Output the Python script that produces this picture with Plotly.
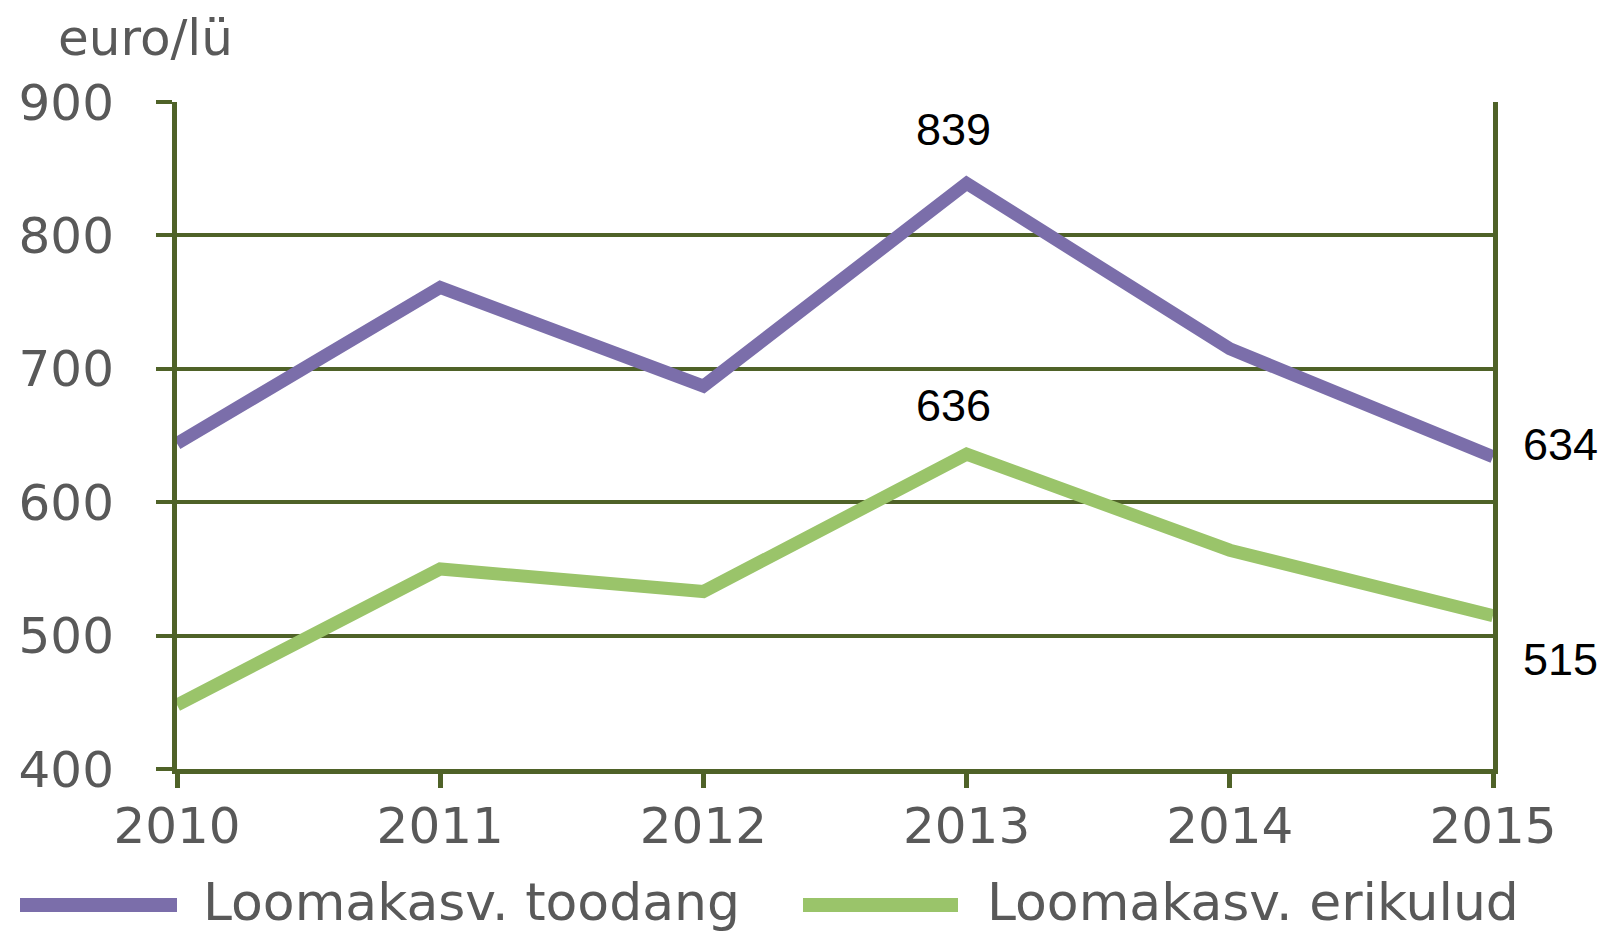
import plotly.graph_objects as go

years = [2010, 2011, 2012, 2013, 2014, 2015]
toodang = [644, 761, 687, 839, 715, 634]
erikulud = [448, 550, 533, 636, 564, 515]
y_ticks = [400, 500, 600, 700, 800, 900]
series_names = ["Loomakasv. toodang", "Loomakasv. erikulud"]
unit_label = "euro/lü"

PURPLE = "#7B6EAA"
GREEN = "#9AC46A"
OLIVE = "#4F6228"
GRAY = "#595959"

W, H = 1604, 934
L, R, T, B = 177, 111, 102, 165
PW, PH = W - L - R, H - T - B


def px(x):
    return (x - L) / PW


def py(y):
    return (H - B - y) / PH


fig = go.Figure()
fig.add_trace(go.Scatter(x=years, y=toodang, mode="lines", name=series_names[0],
                         line=dict(color=PURPLE, width=13), showlegend=False))
fig.add_trace(go.Scatter(x=years, y=erikulud, mode="lines", name=series_names[1],
                         line=dict(color=GREEN, width=13), showlegend=False))

# data labels
labels = [
    (years[3], toodang[3], "center", -13, 54),
    (years[3], erikulud[3], "center", -13, 49),
    (years[5], toodang[5], "left", 28, 12),
    (years[5], erikulud[5], "left", 28, -44),
]
for x, y, xa, xs, ys in labels:
    fig.add_annotation(x=x, y=y, text=str(y), showarrow=False, xanchor=xa, yanchor="middle",
                       xshift=xs, yshift=ys,
                       font=dict(family="Liberation Sans, Arial", size=45, color="#000000"))

fig.add_annotation(xref="paper", yref="paper", x=px(56), y=py(38),
                   text=unit_label, showarrow=False, xanchor="left", yanchor="middle",
                   font=dict(family="DejaVu Sans", size=50, color=GRAY))

# legend (drawn manually to match long, thick key lines)
legend_items = [
    (series_names[0], PURPLE, 20, 177, 201),
    (series_names[1], GREEN, 803, 958, 985),
]
for name, col, x0, x1, tx in legend_items:
    fig.add_shape(type="line", xref="paper", yref="paper", x0=px(x0), x1=px(x1),
                  y0=py(905), y1=py(905), line=dict(color=col, width=14))
    fig.add_annotation(xref="paper", yref="paper", x=px(tx), y=py(902), text=name,
                       showarrow=False, xanchor="left", yanchor="middle",
                       font=dict(family="DejaVu Sans", size=52, color=GRAY))

fig.update_xaxes(range=[2010, 2015], tickvals=years, ticktext=[str(y) for y in years],
                 showgrid=False, zeroline=False, showline=True, linecolor=OLIVE, linewidth=5,
                 ticks="outside", ticklen=14, tickwidth=5, tickcolor=OLIVE, automargin=False,
                 tickfont=dict(family="DejaVu Sans", size=50, color=GRAY), ticklabelstandoff=-5)
fig.update_yaxes(range=[400, 900], tickvals=y_ticks, showgrid=True, gridcolor=OLIVE, gridwidth=4,
                 zeroline=False, showline=True, linecolor=OLIVE, linewidth=5, mirror=True,
                 ticks="outside", ticklen=16, tickwidth=4, tickcolor=OLIVE, automargin=False,
                 tickfont=dict(family="DejaVu Sans", size=50, color=GRAY), ticklabelstandoff=32)

fig.update_layout(
    width=W, height=H,
    margin=dict(l=L, r=R, t=T, b=B),
    plot_bgcolor="white", paper_bgcolor="white",
    showlegend=False,
)

fig.write_html("out.html", config={"displayModeBar": False},
               post_script="document.body.style.margin='0';document.body.style.overflow='hidden';")
